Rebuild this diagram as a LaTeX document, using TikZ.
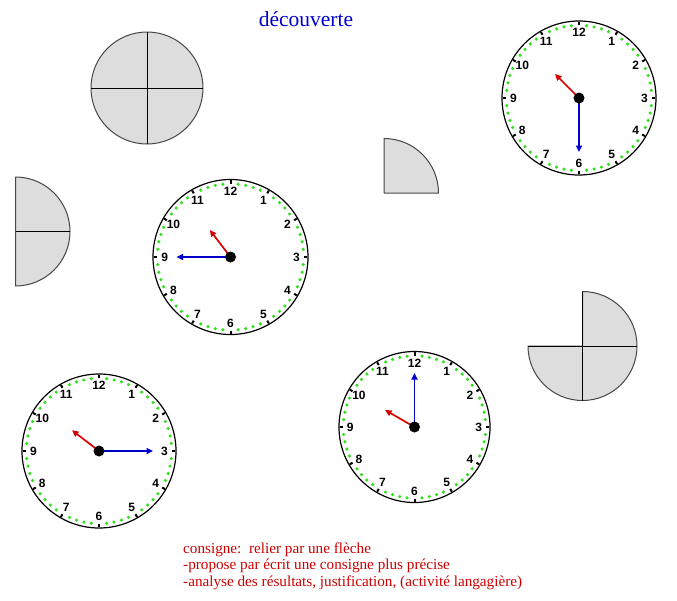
\documentclass[tikz,border=0pt]{standalone}
\usepackage{fontspec}
\setmainfont{Liberation Serif}
\newfontfamily\numfont{Liberation Sans}
\usetikzlibrary{arrows.meta}
\definecolor{titleblue}{RGB}{0,0,204}
\definecolor{txtred}{RGB}{204,0,0}
\definecolor{handred}{RGB}{215,0,0}
\definecolor{handblue}{RGB}{0,0,200}
\definecolor{dotgreen}{RGB}{50,225,30}
\definecolor{piecefill}{RGB}{221,221,221}
\definecolor{pieceline}{RGB}{70,70,70}
\tikzset{
  piece/.style={fill=piecefill,draw=pieceline,line width=1pt,line join=round},
  pieceedge/.style={draw=black,line width=1pt},
  clockrim/.style={draw=black,line width=1.2pt,fill=white},
  clocknum/.style={font=\numfont\bfseries\fontsize{12}{13}\selectfont,inner sep=0pt},
  hourtick/.style={draw=black,line width=2pt},
  hourhand/.style={draw=handred,line width=1.7pt,-{Triangle[length=6.5pt,width=6pt]}},
  minhand/.style={draw=handblue,line width=1.7pt,-{Triangle[length=6.5pt,width=6pt]}},
  bodytext/.style={text=txtred,font=\fontsize{15.2}{17}\selectfont,anchor=base west,inner sep=0pt},
}
% #1 name, #2 x, #3 y, #4 radius, #5 hour angle (clockwise from 12), #6 minute angle
\newcommand\drawclock[6]{%
  \coordinate (#1) at (#2,#3);
  \draw[clockrim] (#1) circle[radius=#4];
  \foreach \m in {0,...,59}{%
    \pgfmathtruncatemacro\rest{mod(\m,5)}%
    \ifnum\rest=0
      \draw[hourtick] (#1) ++(\m*6-90:#4-0.8) -- ++(\m*6-90:-3.2);
    \else
      \fill[dotgreen] (#1) ++(\m*6-90:#4-4.3) circle[radius=1.75];
    \fi
  }
  \foreach \h in {1,...,12}{%
    \path (#1) ++(\h*30-90:{0.85*#4}) node[clocknum] (#1-n\h) {\h};
  }
  \path (#1) ++(#5-90:34) coordinate (#1-htip);
  \path (#1) ++(#6-90:54) coordinate (#1-mtip);
  \draw[hourhand] (#1) -- (#1-htip);
  \draw[minhand] (#1) -- (#1-mtip);
  \fill[black] (#1) circle[radius=5.5];
}
\begin{document}
\begin{tikzpicture}[x=1pt,y=-1pt]
\useasboundingbox (0,0) rectangle (677,600);

% title
\node[text=titleblue,font=\fontsize{21.5}{24}\selectfont,anchor=base,inner sep=0pt] (title) at (306,26) {découverte};

% full disk
\coordinate (disk) at (147,88);
\draw[piece] (disk) circle[radius=56];
\draw[pieceedge] (disk) ++(-56,0) coordinate (diskW) -- ++(112,0) coordinate (diskE);
\draw[pieceedge] (disk) ++(0,-56) coordinate (diskN) -- ++(0,112) coordinate (diskS);

% half disk (left)
\coordinate (half) at (15.5,231.5);
\draw[piece] (half) -- ++(0,-54.5) arc[start angle=-90,end angle=90,radius=54.5] -- cycle;
\draw[pieceedge] (half) -- ++(54.5,0) coordinate (halfE);

% quarter disk
\coordinate (quart) at (384,193);
\draw[piece] (quart) -- ++(0,-54.5) arc[start angle=-90,end angle=0,radius=54.5] -- cycle;

% three-quarter disk
\coordinate (three) at (582.5,346);
\draw[piece] (three) -- ++(0,-54.5) arc[start angle=-90,end angle=180,radius=54.5] -- cycle;
\draw[pieceedge] (three) ++(0,-54.5) coordinate (threeN) -- ++(0,109) coordinate (threeS);
\draw[pieceedge] (three) ++(-54.5,0) coordinate (threeW) -- ++(109,0) coordinate (threeE);

% clocks
\drawclock{clockA}{579}{98}{77}{315}{180}
\drawclock{clockB}{230.5}{257}{77.5}{322.5}{270}
\drawclock{clockC}{99}{451}{77}{307.5}{90}
\drawclock{clockD}{414.5}{427}{75.5}{300}{0}

% instructions
\node[bodytext] (l1) at (183,553) {consigne:\ \ relier par une flèche};
\node[bodytext] (l2) at (183,569.5) {-propose par écrit une consigne plus précise};
\node[bodytext] (l3) at (183,586) {-analyse des résultats, justification, (activité langagière)};
\end{tikzpicture}
\end{document}
